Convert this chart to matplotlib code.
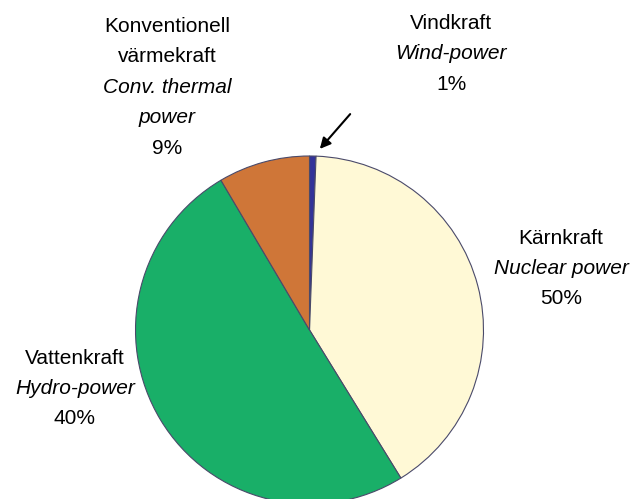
import matplotlib
matplotlib.use('Agg')
import matplotlib.pyplot as plt

# shares as drawn in the pie (clockwise from top)
sources = ['Vindkraft', 'Kärnkraft', 'Vattenkraft', 'Konventionell värmekraft']
shares = [0.6, 40.6, 50.3, 8.5]
colors = ['#333399', '#FFF9D6', '#19AF68', '#CF7638']

# label texts (Swedish / English / printed share)
label_sv = [['Vindkraft'], ['Kärnkraft'], ['Vattenkraft'], ['Konventionell', 'värmekraft']]
label_en = [['Wind-power'], ['Nuclear power'], ['Hydro-power'], ['Conv. thermal', 'power']]
label_pct = ['1%', '50%', '40%', '9%']

W, H = 635, 499
plt.rcParams['font.family'] = ['Liberation Sans', 'DejaVu Sans']

fig = plt.figure(figsize=(W / 100, H / 100), dpi=100)
ax = fig.add_axes([0, 0, 1, 1])

ax.pie(shares, colors=colors, startangle=90, counterclock=False,
       center=(309.5, H - 330), radius=174,
       wedgeprops=dict(edgecolor='#4A4A6A', linewidth=0.8))

# label block positions in pixels (centre x, first line y)
label_pos = [(451, 23), (561, 238), (75, 358), (167, 26)]
line_h = 30.5
for i in range(len(sources)):
    x, y = label_pos[i]
    lines = [(t, 'normal') for t in label_sv[i]] + [(t, 'italic') for t in label_en[i]] + [(label_pct[i], 'normal')]
    for j, (t, st) in enumerate(lines):
        ax.text(x, H - (y + j * line_h), t, ha='center', va='center',
                fontsize=15, style=st, color='black')

# arrow pointing at the small wind slice
ax.annotate('', xy=(318, H - 151), xytext=(352, H - 112),
            arrowprops=dict(arrowstyle='-|>', color='black', lw=1.5, mutation_scale=16))

ax.set_xlim(0, W)
ax.set_ylim(0, H)
ax.set_aspect('equal')
ax.axis('off')

fig.savefig('out.png', dpi=100)
